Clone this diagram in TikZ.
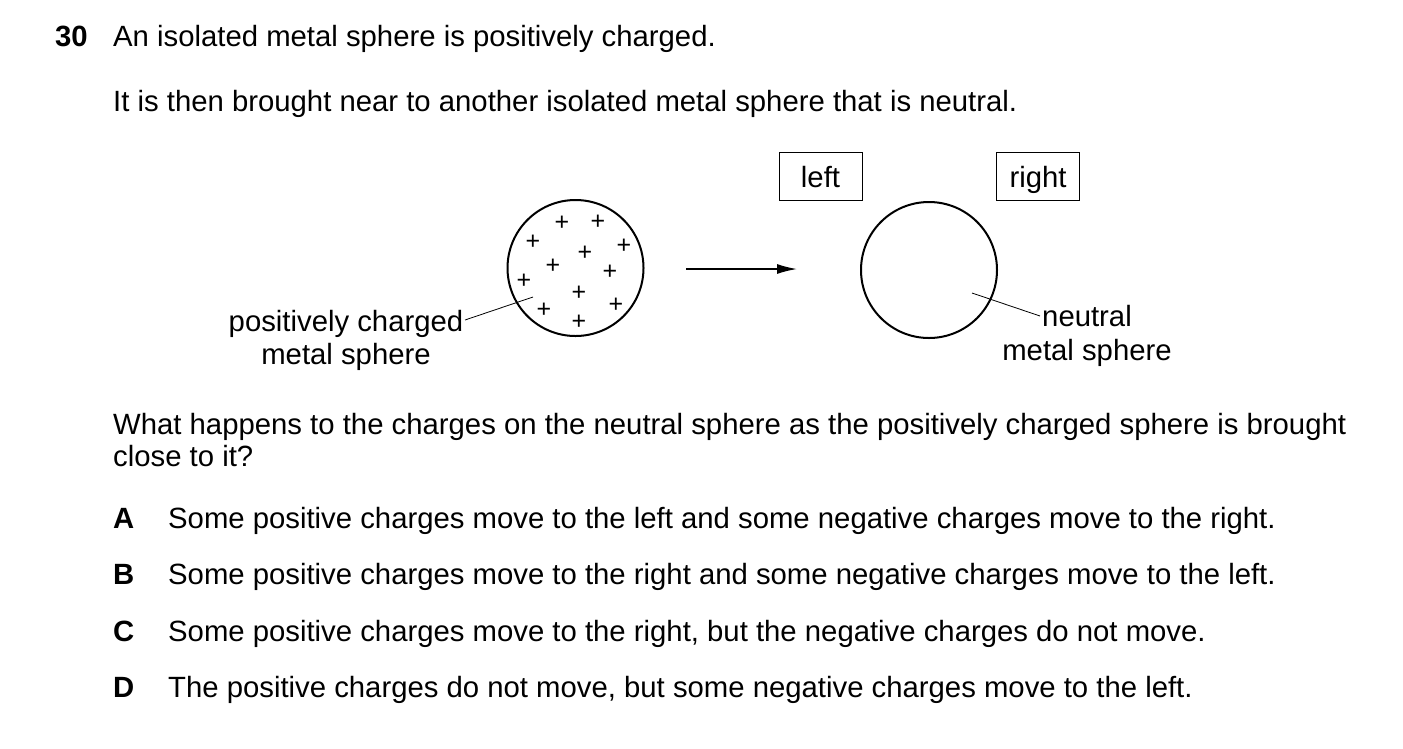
\documentclass[tikz,border=0pt]{standalone}
\usepackage{fontspec}
\setmainfont{Liberation Sans}
\usetikzlibrary{arrows.meta}
\begin{document}
\begin{tikzpicture}[x=1pt,y=-1pt,
  txt/.style={anchor=base west,inner sep=0pt,font=\fontsize{29.3}{34}\selectfont},
  lbl/.style={anchor=base,inner sep=0pt,font=\fontsize{29.3}{34}\selectfont},
  pl/.style={inner sep=0pt,font=\fontsize{25}{28}\selectfont},
  box/.style={draw,line width=1pt,minimum width=83pt,minimum height=48pt,inner sep=0pt},
  sph/.style={draw,circle,line width=2pt,minimum size=136pt,inner sep=0pt}]
\useasboundingbox (0,0) rectangle (1403,748);
\node[txt,font=\fontsize{29.3}{34}\selectfont\bfseries] (q) at (55,46) {30};
\node[txt] (t1) at (113,46) {An isolated metal sphere is positively charged.};
\node[txt] (t2) at (113,111) {It is then brought near to another isolated metal sphere that is neutral.};
\node[box] (bl) at (820.5,176) {};
\node[box] (br) at (1038,176) {};
\node[lbl] (bt1) at (820.5,187) {left};
\node[lbl] (bt2) at (1038,187) {right};
\node[sph] (s1) at (575.5,268) {};
\node[sph] (s2) at (929,270) {};
\foreach \x/\y [count=\i] in {562/223,598/222,533/242,624/246,585/253,553/266,610/272,524/281,579/293,616/305,544/310,579/322}
  \node[pl] (p\i) at (\x,\y) {+};
\coordinate (a1) at (686,269);
\coordinate (a2) at (797,269);
\draw[line width=1.5pt,-{Latex[length=20pt,width=10pt]}] (a1) -- (a2);
\node[lbl] (l1a) at (346,331) {positively charged};
\node[lbl] (l1b) at (346,364) {metal sphere};
\coordinate (e1) at (533,297);
\coordinate (f1) at (465,320);
\draw[line width=0.8pt] (f1) -- (e1);
\node[lbl] (l2a) at (1087,326) {neutral};
\node[lbl] (l2b) at (1087,360) {metal sphere};
\coordinate (e2) at (972,293);
\coordinate (f2) at (1040,316);
\draw[line width=0.8pt] (e2) -- (f2);
\node[txt] (t3) at (113,434) {What happens to the charges on the neutral sphere as the positively charged sphere is brought};
\node[txt] (t4) at (113,466) {close to it?};
\foreach \l/\y/\s in {A/528/{Some positive charges move to the left and some negative charges move to the right.},
  B/584/{Some positive charges move to the right and some negative charges move to the left.},
  C/641/{Some positive charges move to the right, but the negative charges do not move.},
  D/697/{The positive charges do not move, but some negative charges move to the left.}}{
  \node[txt,font=\fontsize{29.3}{34}\selectfont\bfseries] (o\l) at (113,\y) {\l};
  \node[txt] (s\l) at (168,\y) {\s};
}
\end{tikzpicture}
\end{document}
